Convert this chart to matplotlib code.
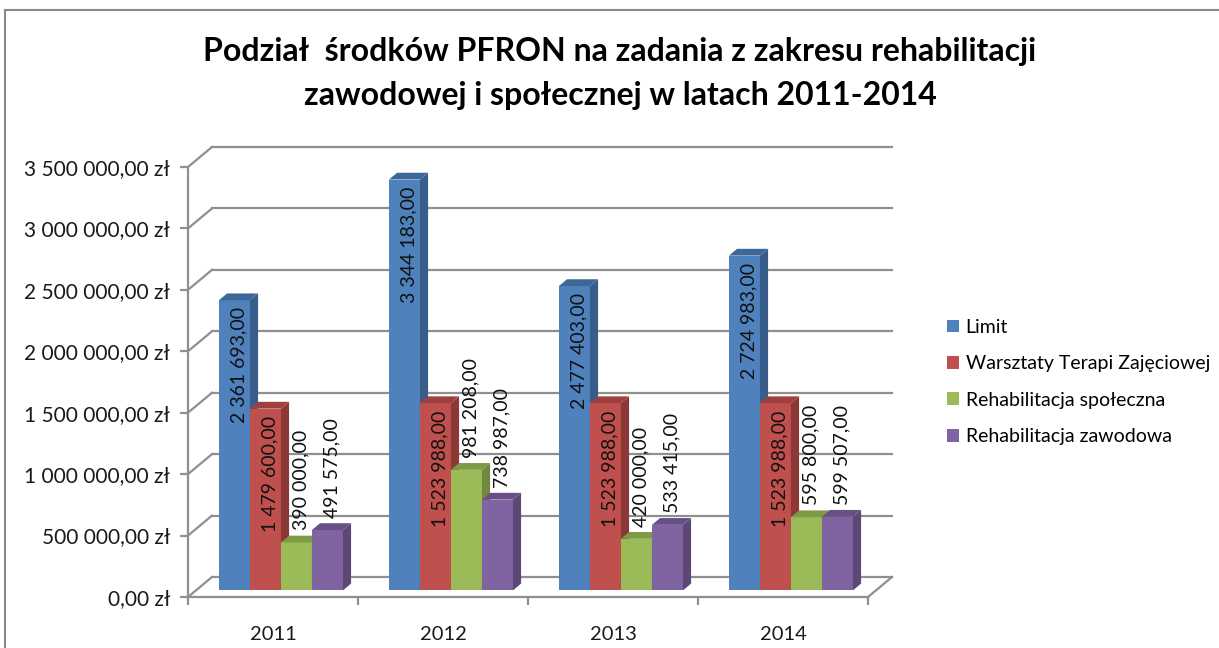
import numpy as np
import matplotlib
matplotlib.use("Agg")
import matplotlib.pyplot as plt
from matplotlib.patches import Polygon, Patch
from matplotlib.lines import Line2D

plt.rcParams["font.family"] = ["Lato", "DejaVu Sans"]

years = ["2011", "2012", "2013", "2014"]
series = ["Limit", "Warsztaty Terapi Zajęciowej",
          "Rehabilitacja społeczna", "Rehabilitacja zawodowa"]
limit = [2361693.00, 3344183.00, 2477403.00, 2724983.00]
wtz = [1479600.00, 1523988.00, 1523988.00, 1523988.00]
spoleczna = [390000.00, 981208.00, 420000.00, 595800.00]
zawodowa = [491575.00, 738987.00, 533415.00, 599507.00]
yticks = np.arange(0, 3500001, 500000)

values = [limit, wtz, spoleczna, zawodowa]
front = ["#4F81BD", "#C0504D", "#9BBB59", "#8064A2"]
side = ["#385D8A", "#8C3836", "#71893F", "#5C4776"]
top = ["#3D6799", "#9E413E", "#7E9A45", "#684F86"]
grid_c = "#8F8F8F"


def pl(v):
    # polish number format: 2 361 693,00
    return f"{v:,.2f}".replace(",", " ").replace(".", ",")


W, H = 1219, 648
fig = plt.figure(figsize=(W / 100, H / 100), dpi=100)
# front plane of the 3D chart: x 0..4 categories, y 0..3.5M
ax = fig.add_axes([188 / W, (H - 597) / H, 680 / W, 430 / H])
ax.set_xlim(0, 4)
ax.set_ylim(0, 3500000)

# pixel -> data scale, for the fake depth
sx = (680 / 4)
sy = 430 / 3500000
wall_dx, wall_dy = 24 / sx, 20 / sy          # depth of floor / wall
bar_f = 0.33                                  # bar front at 1/3 depth
bar_b = 0.67                                  # bar back at 2/3 depth

# back wall gridlines + left wall diagonals
for v in yticks:
    ax.plot([wall_dx, 4 + wall_dx], [v + wall_dy, v + wall_dy],
            color=grid_c, lw=1.6, clip_on=False, zorder=1)
    ax.plot([0, wall_dx], [v, v + wall_dy], color=grid_c, lw=1.6,
            clip_on=False, zorder=1)
# floor right edge
ax.plot([4, 4 + wall_dx], [0, wall_dy], color=grid_c, lw=1.6,
        clip_on=False, zorder=1)

# bars
bw = 31 / sx
n = len(series)
x0s = np.arange(len(years)) + 0.5 - n * bw / 2
fdx, fdy = wall_dx * bar_f, wall_dy * bar_f
ddx, ddy = wall_dx * (bar_b - bar_f), wall_dy * (bar_b - bar_f)

for j in range(len(years)):
    for i in range(n):
        h = values[i][j]
        xl = x0s[j] + i * bw + fdx
        xr = xl + bw
        yb = fdy
        yt = h + fdy
        z = 3 + j * 10 + i
        ax.add_patch(Polygon([(xl, yb), (xr, yb), (xr, yt), (xl, yt)],
                             closed=True, facecolor=front[i], edgecolor="none",
                             zorder=z, clip_on=False))
        ax.add_patch(Polygon([(xr, yb), (xr + ddx, yb + ddy), (xr + ddx, yt + ddy), (xr, yt)],
                             closed=True, facecolor=side[i], edgecolor="none",
                             zorder=z, clip_on=False))
        ax.add_patch(Polygon([(xl, yt), (xr, yt), (xr + ddx, yt + ddy), (xl + ddx, yt + ddy)],
                             closed=True, facecolor=top[i], edgecolor="none",
                             zorder=z, clip_on=False))
        xc = (xl + xr) / 2 + ddx / 2
        if i < 2:
            ax.text(xc, yt - 7 / sy, pl(h), rotation=90, ha="center", va="top",
                    fontsize=14, color="#111111", zorder=100, clip_on=False)
        else:
            ax.text(xc, yt + 12 / sy, pl(h), rotation=90, ha="center", va="bottom",
                    fontsize=14, color="#111111", zorder=100, clip_on=False)

# axes styling
for s in ["top", "right"]:
    ax.spines[s].set_visible(False)
for s in ["left", "bottom"]:
    ax.spines[s].set_color(grid_c)
    ax.spines[s].set_linewidth(1.6)
    ax.spines[s].set_zorder(2)
ax.patch.set_alpha(0)
ax.set_yticks(yticks)
ax.set_yticklabels([pl(v) + " zł" for v in yticks])
ax.tick_params(axis="y", length=6, width=1.6, color=grid_c, labelsize=15,
               pad=7, labelcolor="#1a1a1a")
ax.set_xticks(np.arange(0, 5))
ax.set_xticklabels([])
ax.set_xticks(np.arange(len(years)) + 0.5, minor=True)
ax.set_xticklabels(years, minor=True)
ax.tick_params(axis="x", which="major", length=6, width=1.6, color=grid_c)
ax.tick_params(axis="x", which="minor", length=0, labelsize=14.5, pad=21,
               labelcolor="#1a1a1a")

# title
fig.text(620 / W, 1 - 52 / H, "Podział  środków PFRON na zadania z zakresu rehabilitacji",
         ha="center", va="center", fontsize=23, fontweight="bold")
fig.text(620 / W, 1 - 96 / H, "zawodowej i społecznej w latach 2011-2014",
         ha="center", va="center", fontsize=23, fontweight="bold")

# legend
handles = [Patch(facecolor=c, edgecolor="none") for c in front]
fig.legend(handles, series, loc="upper left", bbox_to_anchor=(937 / W, 1 - 309 / H),
           frameon=False, fontsize=14, handlelength=0.62, handleheight=0.62,
           handletextpad=0.35, labelspacing=1.0, borderpad=0)

# outer frame of the chart area
fig.add_artist(Line2D([5 / W, 1], [1 - 10 / H, 1 - 10 / H], color="#8a8a8a", lw=1.5))
fig.add_artist(Line2D([5 / W, 5 / W], [0, 1 - 10 / H], color="#8a8a8a", lw=1.5))

fig.savefig("out.png", dpi=100)
